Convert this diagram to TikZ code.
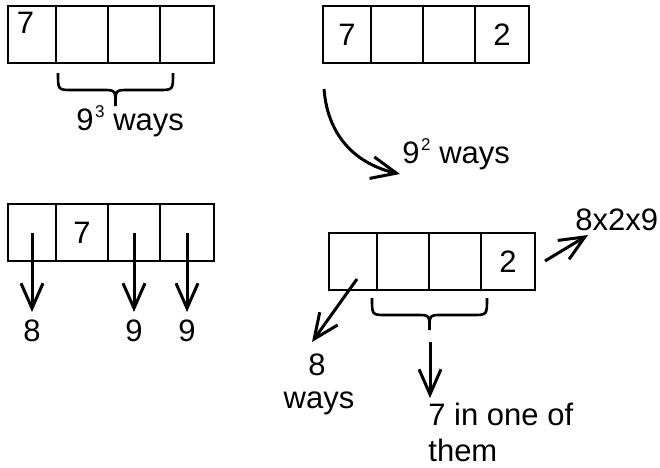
\documentclass[tikz,border=0pt]{standalone}
\usepackage{fontspec}
\setmainfont{Liberation Sans}
\usetikzlibrary{arrows.meta}
\newcommand\supnum[1]{\kern0.8pt\raisebox{6.3pt}{\fontsize{8.5}{10}\selectfont #1}}
\begin{document}
\begin{tikzpicture}[x=0.5pt,y=-0.5pt,
  txt/.style={font=\fontsize{15.5}{18}\selectfont},
  cell/.style={draw,line width=1.1pt,minimum height=28.5pt,inner sep=0pt,outer sep=0pt,txt},
  wa/.style={minimum width=24pt},
  wb/.style={minimum width=26pt},
  wd/.style={minimum width=27pt},
  lbl/.style={inner sep=0pt,txt},
  arr/.style={line width=1.5pt,-{Straight Barb[length=12.5pt,width=11pt]}},
  brc/.style={line width=1.3pt}]
\useasboundingbox (0,0) rectangle (660,467);
% box 1 (top left)
\node[cell,wa] (a1) at (32,34.5) {};
\node[cell,wb] (a2) at (82,34.5) {};
\node[cell,wb] (a3) at (134,34.5) {};
\node[cell,wd] (a4) at (187,34.5) {};
\node[lbl] (a1t) at (25.5,23.3) {7};
% box 2 (top right)
\node[cell,wa] (c1) at (347,34.5) {7};
\node[cell,wb] (c2) at (397,34.5) {};
\node[cell,wb] (c3) at (449,34.5) {};
\node[cell,wd] (c4) at (502,34.5) {2};
% box 3 (bottom left)
\node[cell,wa] (b1) at (32,232.5) {};
\node[cell,wb] (b2) at (82,232.5) {7};
\node[cell,wb] (b3) at (134,232.5) {};
\node[cell,wd] (b4) at (187,232.5) {};
% box 4 (bottom right)
\node[cell,wa] (d1) at (353,261.5) {};
\node[cell,wb] (d2) at (403,261.5) {};
\node[cell,wb] (d3) at (455,261.5) {};
\node[cell,wd] (d4) at (508,261.5) {2};
% braces
\draw[brc] (58,73) .. controls (58,90) .. (72,90) -- (103,90) .. controls (115.5,90) .. (115.5,106)
  .. controls (115.5,90) .. (128,90) -- (159,90) .. controls (173,90) .. (173,73);
\draw[brc] (372,298) .. controls (372,315) .. (386,315) -- (417,315) .. controls (429.5,315) .. (429.5,330)
  .. controls (429.5,315) .. (442,315) -- (473,315) .. controls (487,315) .. (487,298);
% texts
\node[lbl,anchor=base west] (t93) at (76,130) {9\supnum{3} ways};
\node[lbl,anchor=base west] (t92) at (402,163) {9\supnum{2} ways};
\node[lbl,anchor=base west] (tm) at (575,230) {8x2x9};
\node[lbl,anchor=base,inner sep=3.5pt] (l1) at (32,341) {8};
\node[lbl,anchor=base,inner sep=3.5pt] (l3) at (134,341) {9};
\node[lbl,anchor=base,inner sep=3.5pt] (l4) at (187,341) {9};
\node[lbl,anchor=base] (w8) at (317,375) {8};
\node[lbl,anchor=base] (ww) at (319,408) {ways};
\node[lbl,anchor=base west] (s1) at (428,425) {7 in one of};
\node[lbl,anchor=base west] (s2) at (428,461) {them};
% connectors
\coordinate (cs) at (324,89);
\coordinate (ce) at (400,174);
\draw[arr] (cs) .. controls (328,140) and (360,165) .. (ce);
\draw[arr] (b1.center) -- (l1.north);
\draw[arr] (b3.center) -- (l3.north);
\draw[arr] (b4.center) -- (l4.north);
\coordinate (ds) at (357,279);
\coordinate (de) at (312,342);
\draw[arr] (ds) -- (de);
\coordinate (rs) at (545,261);
\coordinate (re) at (588,235);
\draw[arr] (rs) -- (re);
\coordinate (vs) at (430,342);
\coordinate (ve) at (430,398);
\draw[arr] (vs) -- (ve);
\end{tikzpicture}
\end{document}
